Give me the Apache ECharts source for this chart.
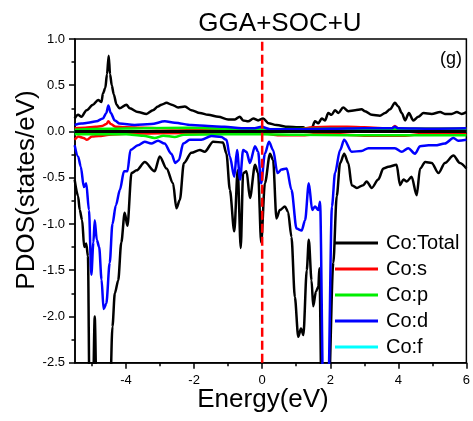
<!DOCTYPE html>
<html><head><meta charset="utf-8">
<script src="https://cdn.jsdelivr.net/npm/echarts@6/dist/echarts.min.js"></script>
<style>html,body{margin:0;padding:0;background:#fff}#c{width:473px;height:421px}</style>
</head><body><div id="c"></div>
<script>
const xLabelTicks = [-4,-2,0,2,4,6];
const xMinorTicks = [-5,-3,-1,1,3,5];
const legendNames = ['Co:Total','Co:s','Co:p','Co:d','Co:f'];
const fermiLevel = 0;
const yRange = [-2.5, 1.0];

const totalUpE = [-5.51,-5.41,-5.31,-5.16,-4.97,-4.82,-4.72,-4.68,-4.61,-4.56,-4.51,-4.47,-4.42,-4.36,-4.28,-4.19,-3.99,-3.89,-3.65,-3.40,-3.21,-3.06,-2.96,-2.81,-2.66,-2.47,-2.27,-2.08,-1.83,-1.59,-1.29,-1.0,-0.80,-0.66,-0.56,-0.41,-0.26,-0.12,0.03,0.18,0.42,0.76,1.06,1.21,1.31,1.45,1.55,1.65,1.75,1.85,1.94,2.04,2.14,2.24,2.38,2.53,2.73,2.92,3.02,3.22,3.46,3.61,3.76,3.90,4.0,4.1,4.2,4.31,4.44,4.59,4.74,4.98,5.23,5.37,5.57,5.72,5.86,6.0];
const totalUp = [0.14,0.18,0.16,0.23,0.29,0.34,0.32,0.41,0.47,0.62,0.82,0.62,0.50,0.40,0.29,0.25,0.29,0.25,0.21,0.19,0.23,0.27,0.29,0.31,0.29,0.26,0.27,0.23,0.20,0.18,0.16,0.13,0.13,0.16,0.12,0.11,0.14,0.12,0.14,0.09,0.07,0.05,0.045,0.045,0.02,0.03,0.11,0.09,0.14,0.12,0.20,0.18,0.23,0.20,0.26,0.22,0.23,0.24,0.22,0.18,0.17,0.20,0.24,0.31,0.27,0.20,0.12,0.20,0.12,0.16,0.20,0.19,0.21,0.19,0.19,0.21,0.19,0.21];

const totalDnE = [-5.51,-5.41,-5.36,-5.29,-5.23,-5.17,-5.12,-5.07,-4.98,-4.92,-4.86,-4.48,-4.40,-4.33,-4.23,-4.14,-4.04,-3.96,-3.84,-3.69,-3.45,-3.16,-3.01,-2.81,-2.62,-2.52,-2.42,-2.30,-2.08,-1.83,-1.69,-1.44,-1.15,-1.05,-0.95,-0.82,-0.72,-0.63,-0.56,-0.46,-0.36,-0.21,-0.12,-0.03,0.08,0.23,0.32,0.42,0.52,0.67,0.76,0.86,0.96,1.06,1.14,1.21,1.31,1.37,1.45,1.50,1.58,1.65,1.68,1.75,1.94,2.09,2.19,2.29,2.41,2.53,2.63,2.78,2.97,3.07,3.22,3.41,3.56,3.71,3.95,4.05,4.15,4.25,4.39,4.54,4.64,4.79,4.98,5.18,5.37,5.62,5.81,6.0];
const totalDn = [-0.52,-0.70,-0.85,-0.96,-1.25,-1.21,-1.35,-3.0,-3.0,-2.0,-3.0,-3.0,-2.11,-1.75,-1.61,-1.20,-0.88,-1.02,-0.45,-0.42,-0.33,-0.43,-0.27,-0.40,-0.56,-0.83,-0.74,-0.34,-0.23,-0.20,-0.22,-0.11,-0.12,-0.24,-0.63,-1.08,-0.42,-1.26,-0.45,-0.43,-0.72,-0.36,-0.45,-1.20,-0.56,-0.24,-0.31,-0.94,-0.85,-0.81,-0.87,-1.14,-1.79,-2.22,-2.13,-2.20,-1.50,-1.17,-1.61,-1.89,-1.73,-1.68,-1.48,-3.0,-3.0,-1.42,-0.70,-0.34,-0.24,-0.34,-0.58,-0.61,-0.58,-0.54,-0.61,-0.52,-0.40,-0.38,-0.36,-0.58,-0.52,-0.54,-0.49,-0.69,-0.40,-0.33,-0.34,-0.45,-0.34,-0.26,-0.34,-0.40];

const dUpE = [-5.51,-5.31,-5.12,-4.87,-4.68,-4.58,-4.52,-4.45,-4.33,-4.19,-3.75,-3.26,-2.86,-2.57,-2.08,-1.59,-1.1,-0.61,-0.22,-0.02,0.23,1.0,2.0,3.0,3.8,3.9,4.0,5.0,6.0];
const dUp = [0.07,0.085,0.095,0.11,0.14,0.20,0.28,0.20,0.12,0.085,0.07,0.08,0.11,0.095,0.07,0.06,0.05,0.035,0.035,0.05,0.025,0.025,0.03,0.035,0.035,0.05,0.035,0.03,0.035];

const dDnE = [-5.51,-5.41,-5.33,-5.24,-5.17,-5.09,-5.02,-4.96,-4.92,-4.86,-4.79,-4.72,-4.66,-4.58,-4.48,-4.40,-4.30,-4.18,-4.06,-3.96,-3.87,-3.65,-3.45,-3.26,-3.06,-2.87,-2.67,-2.55,-2.45,-2.32,-2.13,-1.79,-1.49,-1.20,-1.05,-0.95,-0.82,-0.74,-0.65,-0.56,-0.46,-0.36,-0.21,-0.12,-0.03,0.08,0.20,0.32,0.45,0.57,0.72,0.86,1.01,1.16,1.26,1.37,1.47,1.55,1.65,1.70,1.80,1.93,2.05,2.14,2.29,2.41,2.63,2.92,3.12,3.41,3.90,4.10,4.29,4.49,4.64,4.89,5.08,5.37,5.62,5.76,6.0];
const dDn = [-0.15,-0.27,-0.38,-0.60,-0.56,-0.85,-1.55,-1.2,-0.96,-1.17,-1.25,-1.6,-1.92,-1.86,-1.42,-1.0,-0.80,-0.63,-0.43,-0.43,-0.20,-0.15,-0.11,-0.13,-0.10,-0.13,-0.24,-0.34,-0.31,-0.13,-0.09,-0.09,-0.05,-0.06,-0.09,-0.27,-0.49,-0.20,-0.52,-0.20,-0.22,-0.34,-0.16,-0.22,-0.56,-0.24,-0.11,-0.20,-0.45,-0.41,-0.40,-0.63,-1.05,-1.07,-0.96,-0.56,-0.85,-0.81,-0.85,-0.76,-3.0,-3.0,-0.81,-0.45,-0.20,-0.09,-0.22,-0.21,-0.18,-0.18,-0.18,-0.22,-0.18,-0.24,-0.16,-0.15,-0.15,-0.13,-0.07,-0.10,-0.09];

const sUpE = [-5.51,-5.2,-4.9,-4.7,-4.58,-4.52,-4.45,-4.3,-4.0,-3.5,-3.0,-2.0,-1.0,0.0,1.0,1.5,2.0,2.5,3.0,3.8,3.9,4.0,5.0,6.0];
const sUp = [0.035,0.04,0.05,0.06,0.08,0.11,0.08,0.05,0.045,0.04,0.035,0.03,0.025,0.02,0.02,0.045,0.05,0.05,0.045,0.03,0.06,0.03,0.03,0.03];
const sDnE = [-5.51,-5.4,-5.25,-5.15,-5.0,-4.8,-4.5,-4.0,-3.0,-1.0,0.0,0.5,1.2,1.8,3.0,4.2,4.6,6.0];
const sDn = [-0.09,-0.055,-0.07,-0.09,-0.055,-0.05,-0.035,-0.025,-0.02,-0.015,-0.02,-0.04,-0.04,-0.02,-0.045,-0.045,-0.03,-0.03];

const pUpE = [-5.51,-4.5,-3.5,-2.2,-1.0,0.0,2.0,4.0,6.0];
const pUp = [0.02,0.03,0.035,0.04,0.03,0.025,0.03,0.03,0.03];
const pDnE = [-5.51,-4.0,-3.5,-3.16,-2.9,-2.57,-2.3,-1.0,0.0,1.0,2.5,4.0,6.0];
const pDn = [-0.03,-0.03,-0.045,-0.07,-0.045,-0.06,-0.035,-0.03,-0.03,-0.035,-0.04,-0.04,-0.04];

const fE = [-5.51,6.0];
const fV = [0,0];

function pairs(xs, ys){ return xs.map((x,i)=>[x, ys[i]]); }
const FONT = '"Liberation Sans", Arial, sans-serif';

function line(name, color, xs, ys, extra){
  return Object.assign({
    name, type:'line', data: pairs(xs, ys), showSymbol:false, symbol:'none',
    smooth:0.3, smoothMonotone:'x',
    lineStyle:{color, width:2.5}, itemStyle:{color}, animation:false, clip:true
  }, extra||{});
}

const chart = echarts.init(document.getElementById('c'), null, {renderer:'canvas'});
chart.setOption({
  animation:false,
  backgroundColor:'#fff',
  grid:{left:75, right:6.3, top:39, bottom:58.3, show:true, borderColor:'#000', borderWidth:1.5, backgroundColor:'transparent'},
  legend:{
    data: legendNames, orient:'vertical', left:335, top:233, icon:'rect', padding:0,
    itemWidth:43, itemHeight:3, itemGap:6,
    textStyle:{fontSize:20, fontFamily:FONT, color:'#000', lineHeight:20, padding:[0,0,0,3]},
    selectedMode:false
  },
  xAxis:[{
    type:'value', min:-5.5, max:6, position:'bottom',
    axisLine:{show:true, onZero:false, lineStyle:{color:'#000', width:1.5}},
    axisTick:{show:true, inside:false, length:6, customValues:xLabelTicks, lineStyle:{color:'#000', width:1.5}},
    axisLabel:{show:true, customValues:xLabelTicks, fontSize:13, fontFamily:FONT, color:'#000', margin:11},
    splitLine:{show:false}
  },{
    type:'value', min:-5.5, max:6, position:'bottom',
    axisLine:{show:false, onZero:false},
    axisTick:{show:true, inside:false, length:3.5, customValues:xMinorTicks, lineStyle:{color:'#000', width:1.5}},
    axisLabel:{show:false},
    splitLine:{show:false}
  }],
  yAxis:{
    type:'value', min:-2.5, max:1.0, interval:0.5, position:'left',
    axisLine:{show:true, onZero:false, lineStyle:{color:'#000', width:1.5}},
    axisTick:{show:true, inside:false, length:6, lineStyle:{color:'#000', width:1.5}},
    minorTick:{show:true, splitNumber:2, length:3.5, lineStyle:{color:'#000', width:1.5}},
    axisLabel:{fontSize:13, fontFamily:FONT, color:'#000', margin:10, formatter:v=>v.toFixed(1)},
    splitLine:{show:false}, minorSplitLine:{show:false}
  },
  graphic:[
    {type:'text', x:280, y:24, style:{text:'GGA+SOC+U', font:'26px '+FONT, fill:'#000', textAlign:'center', textVerticalAlign:'middle'}},
    {type:'text', x:263, y:400, style:{text:'Energy(eV)', font:'26px '+FONT, fill:'#000', textAlign:'center', textVerticalAlign:'middle'}},
    {type:'text', x:27, y:190, rotation:Math.PI/2, style:{text:'PDOS(states/eV)', font:'26px '+FONT, fill:'#000', textAlign:'center', textVerticalAlign:'middle'}},
    {type:'text', x:451, y:59, style:{text:'(g)', font:'18px '+FONT, fill:'#000', textAlign:'center', textVerticalAlign:'middle'}}
  ],
  series:[
    line('Co:Total', '#000000', totalUpE, totalUp),
    line('Co:Total', '#000000', totalDnE, totalDn),
    line('Co:s', '#ff0000', sUpE, sUp),
    line('Co:s', '#ff0000', sDnE, sDn),
    line('Co:p', '#00ee00', pUpE, pUp),
    line('Co:p', '#00ee00', pDnE, pDn),
    line('Co:d', '#0000ff', dUpE, dUp),
    line('Co:d', '#0000ff', dDnE, dDn),
    line('Co:f', '#00ffff', fE, fV),
    {
      name:'zero', type:'line', data: pairs(fE, fV), showSymbol:false, symbol:'none',
      lineStyle:{color:'#000', width:3}, animation:false, silent:true
    },
    {
      name:'fermi', type:'line', data: pairs([fermiLevel, fermiLevel], yRange), showSymbol:false, symbol:'none',
      lineStyle:{color:'#ff0000', width:2.5, type:[9,4]}, animation:false, silent:true, z:10
    }
  ]
});
</script>
</body></html>
